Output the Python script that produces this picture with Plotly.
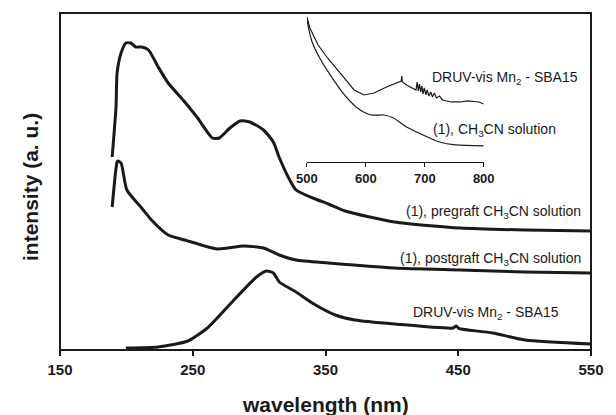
import plotly.graph_objects as go

# ---- main spectra (wavelength nm, intensity a.u.) ----
pre_wl = [189.3, 192.2, 193.0, 196.0, 199.6, 203.3, 207.0, 211.5, 216.7, 224.0, 231.5, 244.0, 253.7, 264.8,
          270.0, 278.0, 285.6, 293.0, 303.3, 310.7, 315.0, 321.9, 327.8, 340.4, 352.2, 364.8, 401.9, 451.5, 500.4, 550.0]
pre_y = [193, 243, 277, 297, 307, 307, 303, 303, 300, 283, 267, 248, 232, 212,
         212, 222, 229, 228, 220, 208, 193, 173, 160, 152, 146, 139, 128, 122, 120, 119]

post_wl = [189.3, 193.0, 193.7, 196.0, 200.4, 211.5, 218.9, 231.5, 244.0, 268.5, 288.5, 303.3, 315.2, 327.8,
           352.2, 401.9, 451.5, 500.4, 550.0]
post_y = [143, 188, 189, 187, 160, 142, 130, 115, 110, 101, 104, 102, 95, 90,
          87, 82, 80, 78, 77]

druv_wl = [199.6, 224.0, 246.3, 261.0, 281.0, 298.0, 305.6, 310.7, 315.2, 327.8, 340.0, 357.4, 372.2, 401.9,
           446.0, 448.5, 450.0, 452.0, 476.0, 500.4, 550.0]
druv_y = [2, 3, 9, 22, 50, 73, 79, 77, 68, 58, 47, 35, 30, 26,
          22, 24, 22, 21, 17, 10, 6]

# ---- inset spectra ----
in_druv_wl = [500, 505, 519, 535, 559, 580, 597, 614, 635, 655, 660, 661, 662, 669, 680, 685, 687, 689, 691, 693,
              695, 697, 699, 702, 704, 707, 710, 713, 716, 720, 725, 730, 745, 760, 772, 784, 792, 800]
in_druv_y = [145, 134, 117, 104, 87, 72, 67, 69, 75, 80, 81, 86, 80, 77, 73, 72, 80, 71, 78, 70,
             76, 68, 74, 67, 72, 66, 70, 65, 69, 64, 66, 62, 60, 60, 61, 60, 60, 58]

in_sol_wl = [500, 508.8, 525.5, 542, 563.8, 585.5, 609, 630.5, 647, 669, 697, 725, 752, 800]
in_sol_y = [142, 120, 100, 85, 67, 54, 47, 47, 44, 35, 27, 20, 17, 16]

x_ticks = [150, 250, 350, 450, 550]
inset_ticks = [500, 600, 700, 800]

FONT = "Liberation Sans, Arial, sans-serif"
INK = "#1a1a1a"

fig = go.Figure()
for wl, y in [(pre_wl, pre_y), (post_wl, post_y), (druv_wl, druv_y)]:
    fig.add_trace(go.Scatter(x=wl, y=y, mode="lines", line=dict(color=INK, width=3, shape="spline", smoothing=0.6),
                             showlegend=False, hoverinfo="skip"))
fig.add_trace(go.Scatter(x=in_druv_wl, y=in_druv_y, mode="lines", line=dict(color=INK, width=1.2),
                         xaxis="x2", yaxis="y2", showlegend=False, hoverinfo="skip"))
fig.add_trace(go.Scatter(x=in_sol_wl, y=in_sol_y, mode="lines",
                         line=dict(color=INK, width=1.2, shape="spline", smoothing=0.8),
                         xaxis="x2", yaxis="y2", showlegend=False, hoverinfo="skip"))

fig.update_layout(
    width=616, height=415,
    margin=dict(l=60, r=15, t=13, b=65),
    paper_bgcolor="white", plot_bgcolor="white",
    font=dict(family=FONT, color=INK),
    xaxis=dict(range=[150, 550], tickvals=x_ticks, ticks="outside", ticklen=5, tickwidth=1.5,
               tickcolor=INK, showline=False, showgrid=False, zeroline=False, ticklabelstandoff=1,
               tickfont=dict(size=15, family=FONT, weight="bold", color=INK)),
    yaxis=dict(range=[0, 337], showticklabels=False, ticks="", showline=False,
               showgrid=False, zeroline=False),
    xaxis2=dict(domain=[0.465, 0.798], anchor="y2", range=[500, 800], tickvals=inset_ticks,
                ticks="outside", ticklen=4, tickwidth=1, tickcolor=INK, showline=True,
                linewidth=1, linecolor=INK, showgrid=False, zeroline=False,
                tickfont=dict(size=13, family=FONT, weight="bold", color=INK)),
    yaxis2=dict(domain=[0.558, 1.0], anchor="x2", range=[0, 149], visible=False),
)

fig.add_shape(type="rect", xref="paper", yref="paper", x0=0, x1=1, y0=0, y1=1,
              line=dict(color=INK, width=2), layer="above")

ann = [
    dict(text="(1), pregraft CH<sub>3</sub>CN solution", x=0.985, y=(350 - 212) / 337, xanchor="right"),
    dict(text="(1), postgraft CH<sub>3</sub>CN solution", x=0.985, y=(350 - 259) / 337, xanchor="right"),
    dict(text="DRUV-vis Mn<sub>2</sub> - SBA15", x=(418 - 60) / 541, y=(350 - 313) / 337, xanchor="left"),
    dict(text="DRUV-vis Mn<sub>2</sub> - SBA15", x=(437 - 60) / 541, y=(350 - 78) / 337, xanchor="left"),
    dict(text="(1), CH<sub>3</sub>CN solution", x=(438 - 60) / 541, y=(350 - 130) / 337, xanchor="left"),
]
for a in ann:
    fig.add_annotation(text=a["text"], x=a["x"], y=a["y"], xref="paper", yref="paper",
                       xanchor=a["xanchor"], yanchor="middle", showarrow=False,
                       font=dict(size=14, family=FONT, color=INK))

fig.add_annotation(text="wavelength (nm)", x=0.5, y=0, xref="paper", yref="paper", yshift=-54,
                   xanchor="center", yanchor="middle", showarrow=False,
                   font=dict(size=21, family=FONT, weight="bold", color=INK))
fig.add_annotation(text="intensity (a. u.)", x=0, y=(350 - 187) / 337, xref="paper", yref="paper", xshift=-30,
                   xanchor="center", yanchor="middle", textangle=-90, showarrow=False,
                   font=dict(size=21, family=FONT, weight="bold", color=INK))

fig.write_html("out.html")
